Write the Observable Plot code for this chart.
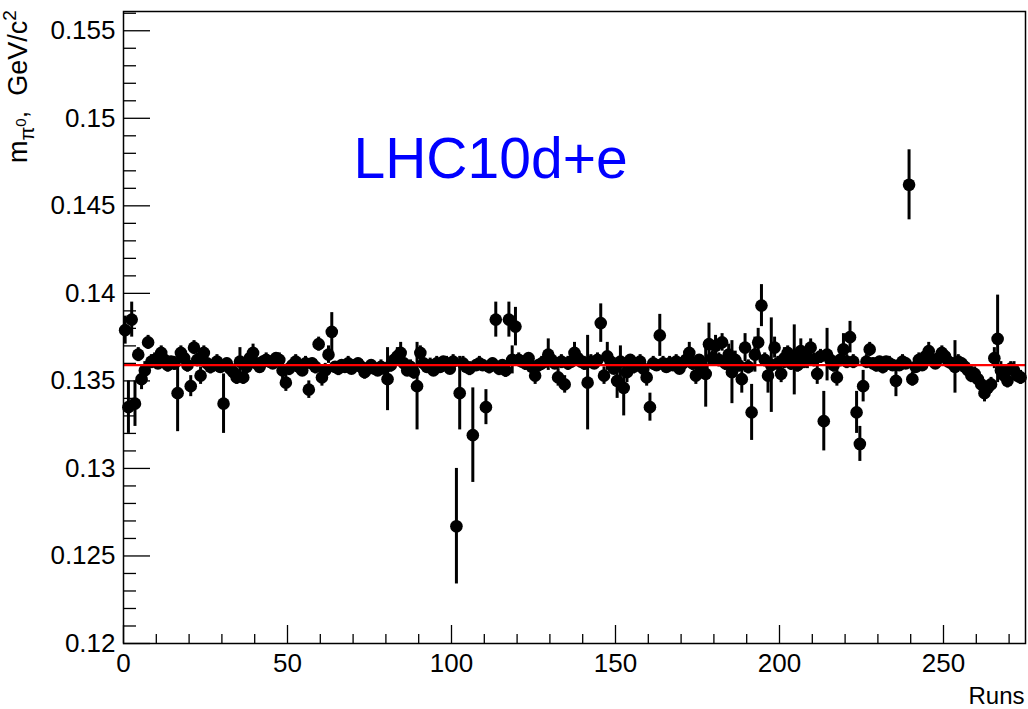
<!DOCTYPE html>
<html>
<head>
<meta charset="utf-8">
<script src="https://cdn.jsdelivr.net/npm/d3@7"></script>
<script src="https://cdn.jsdelivr.net/npm/@observablehq/plot@0.6"></script>
<style>
  html, body { margin: 0; padding: 0; background: white; }
</style>
</head>
<body>
<div id="chart"></div>
<script>
// Run index (bin centres run + 0.5) and fitted pi0 mass per run
const massValues = [
  0.1379,0.1335,0.1385,0.1337,0.1365,0.1351,0.1356,0.1372,0.1361,0.1362,
  0.1360,0.1366,0.1362,0.1359,0.1361,0.1360,0.1343,0.1366,0.1363,0.1359,
  0.1347,0.1369,0.1362,0.1353,0.1366,0.1360,0.1358,0.1359,0.1361,0.1358,
  0.1337,0.1360,0.1357,0.1355,0.1352,0.1361,0.1352,0.1358,0.1363,0.1366,
  0.1360,0.1358,0.1361,0.1362,0.1361,0.1360,0.1363,0.1362,0.1356,0.1349,
  0.1357,0.1359,0.1361,0.1358,0.1356,0.1360,0.1345,0.1360,0.1358,0.1371,
  0.1352,0.1356,0.1365,0.1378,0.1358,0.1357,0.1359,0.1358,0.1360,0.1357,
  0.1359,0.1360,0.1358,0.1355,0.1357,0.1359,0.1357,0.1356,0.1358,0.1357,
  0.1351,0.1359,0.1362,0.1364,0.1366,0.1360,0.1356,0.1358,0.1355,0.1347,
  0.1366,0.1360,0.1358,0.1359,0.1356,0.1360,0.1358,0.1361,0.1360,0.1357,
  0.1361,0.1267,0.1343,0.1360,0.1358,0.1357,0.1319,0.1359,0.1360,0.1359,
  0.1335,0.1358,0.1360,0.1385,0.1357,0.1359,0.1356,0.1385,0.1362,0.1381,
  0.1362,0.1361,0.1360,0.1363,0.1358,0.1353,0.1359,0.1360,0.1361,0.1365,
  0.1362,0.1360,0.1352,0.1361,0.1348,0.1360,0.1361,0.1366,0.1363,0.1361,
  0.1360,0.1349,0.1361,0.1360,0.1362,0.1383,0.1353,0.1364,0.1361,0.1357,
  0.1350,0.1361,0.1346,0.1355,0.1362,0.1358,0.1360,0.1361,0.1357,0.1352,
  0.1335,0.1360,0.1359,0.1376,0.1360,0.1358,0.1360,0.1359,0.1361,0.1357,
  0.1360,0.1362,0.1366,0.1360,0.1353,0.1362,0.1358,0.1354,0.1371,0.1363,
  0.1370,0.1362,0.1372,0.1360,0.1365,0.1355,0.1362,0.1359,0.1351,0.1369,
  0.1358,0.1332,0.1365,0.1372,0.1393,0.1362,0.1353,0.1359,0.1369,0.1360,
  0.1354,0.1363,0.1366,0.1360,0.1362,0.1359,0.1367,0.1361,0.1363,0.1369,
  0.1362,0.1354,0.1364,0.1327,0.1365,0.1362,0.1359,0.1352,0.1362,0.1368,
  0.1361,0.1375,0.1361,0.1332,0.1314,0.1347,0.1361,0.1368,0.1360,0.1359,
  0.1361,0.1358,0.1361,0.1360,0.1359,0.1350,0.1359,0.1361,0.1360,0.1462,
  0.1351,0.1358,0.1362,0.1359,0.1364,0.1367,0.1362,0.1360,0.1363,0.1366,
  0.1364,0.1361,0.1360,0.1358,0.1361,0.1360,0.1358,0.1356,0.1353,0.1354,
  0.1351,0.1348,0.1343,0.1346,0.1348,0.1363,0.1374,0.1356,0.1353,0.1350,
  0.1357,0.1356,0.1353,0.1352
];
const massErrors = [
  0.0008,0.0015,0.0010,0.0013,0.0004,0.0006,0.0005,0.0004,0.0004,0.0004,
  0.0003,0.0004,0.0003,0.0004,0.0003,0.0004,0.0022,0.0004,0.0003,0.0004,
  0.0006,0.0004,0.0004,0.0005,0.0004,0.0003,0.0004,0.0003,0.0004,0.0003,
  0.0017,0.0003,0.0004,0.0004,0.0004,0.0008,0.0004,0.0003,0.0004,0.0005,
  0.0003,0.0003,0.0003,0.0004,0.0003,0.0003,0.0003,0.0004,0.0005,0.0005,
  0.0004,0.0003,0.0004,0.0004,0.0003,0.0004,0.0005,0.0003,0.0004,0.0004,
  0.0005,0.0004,0.0005,0.0011,0.0003,0.0004,0.0003,0.0003,0.0004,0.0003,
  0.0003,0.0003,0.0004,0.0004,0.0003,0.0003,0.0003,0.0003,0.0004,0.0003,
  0.0018,0.0004,0.0004,0.0005,0.0006,0.0004,0.0003,0.0004,0.0004,0.0025,
  0.0004,0.0003,0.0003,0.0004,0.0003,0.0004,0.0003,0.0003,0.0004,0.0003,
  0.0004,0.0033,0.0021,0.0004,0.0003,0.0004,0.0027,0.0003,0.0004,0.0003,
  0.0010,0.0004,0.0003,0.0010,0.0004,0.0003,0.0004,0.0010,0.0008,0.0011,
  0.0004,0.0003,0.0004,0.0003,0.0004,0.0005,0.0003,0.0004,0.0003,0.0009,
  0.0004,0.0003,0.0005,0.0004,0.0005,0.0004,0.0003,0.0006,0.0004,0.0003,
  0.0004,0.0027,0.0004,0.0003,0.0004,0.0011,0.0005,0.0008,0.0004,0.0003,
  0.0010,0.0009,0.0016,0.0006,0.0003,0.0004,0.0003,0.0004,0.0003,0.0005,
  0.0008,0.0004,0.0003,0.0012,0.0004,0.0003,0.0004,0.0003,0.0004,0.0003,
  0.0004,0.0003,0.0006,0.0004,0.0005,0.0003,0.0004,0.0019,0.0012,0.0004,
  0.0006,0.0004,0.0005,0.0004,0.0006,0.0018,0.0005,0.0004,0.0008,0.0008,
  0.0004,0.0016,0.0010,0.0008,0.0012,0.0004,0.0010,0.0027,0.0006,0.0004,
  0.0005,0.0006,0.0004,0.0004,0.0020,0.0004,0.0007,0.0004,0.0006,0.0005,
  0.0004,0.0006,0.0004,0.0017,0.0015,0.0004,0.0004,0.0005,0.0004,0.0009,
  0.0004,0.0009,0.0004,0.0012,0.0010,0.0009,0.0004,0.0004,0.0003,0.0004,
  0.0003,0.0004,0.0003,0.0004,0.0003,0.0009,0.0003,0.0004,0.0003,0.0020,
  0.0004,0.0003,0.0004,0.0003,0.0004,0.0005,0.0004,0.0003,0.0003,0.0004,
  0.0003,0.0004,0.0003,0.0015,0.0004,0.0003,0.0004,0.0004,0.0004,0.0004,
  0.0003,0.0004,0.0005,0.0004,0.0004,0.0006,0.0025,0.0005,0.0005,0.0004,
  0.0004,0.0005,0.0004,0.0004
];
const fitValue = 0.1359;

const yTickValues = [0.12, 0.125, 0.13, 0.135, 0.14, 0.145, 0.15, 0.155];
const yTickLabels = ["0.12", "0.125", "0.13", "0.135", "0.14", "0.145", "0.15", "0.155"];
const xTickValues = [0, 50, 100, 150, 200, 250];
const xTickLabels = ["0", "50", "100", "150", "200", "250"];
const yMinorTicks = d3.range(121, 157).map(v => v / 1000).filter(v => Math.round(v * 1000) % 5 !== 0);
const xMinorTicks = d3.range(10, 275, 10).filter(v => v % 50 !== 0);

const titleText = "LHC10d+e";
const xLabel = "Runs";

const data = massValues.map((m, i) => ({
  run: i + 0.5,
  mass: m,
  lo: m - massErrors[i],
  hi: m + massErrors[i]
}));

const W = 1028, H = 709;
const mL = 123, mR = 3, mT = 11, mB = 66;
const plotW = W - mL - mR, plotH = H - mT - mB;
const font = "'Liberation Sans', Arial, Helvetica, sans-serif";

const chart = Plot.plot({
  width: W,
  height: H,
  marginLeft: mL,
  marginRight: mR,
  marginTop: mT,
  marginBottom: mB,
  x: {domain: [0, 275]},
  y: {domain: [0.12, 0.1561]},
  style: {fontFamily: font, background: "white", color: "black", overflow: "visible"},
  marks: [
    // inward ROOT-style ticks
    Plot.ruleY(yTickValues, {stroke: "black", strokeWidth: 1.3, insetRight: plotW - 27}),
    Plot.ruleY(yMinorTicks, {stroke: "black", strokeWidth: 1.3, insetRight: plotW - 13}),
    Plot.ruleX(xTickValues, {stroke: "black", strokeWidth: 1.3, insetTop: plotH - 18}),
    Plot.ruleX(xMinorTicks, {stroke: "black", strokeWidth: 1.3, insetTop: plotH - 9}),
    Plot.axisY(yTickValues, {
      tickSize: 0, tickPadding: 8, fontSize: 26, label: null,
      tickFormat: d => yTickLabels[yTickValues.indexOf(d)]
    }),
    Plot.axisX(xTickValues, {
      tickSize: 0, tickPadding: 10, fontSize: 26, label: null,
      tickFormat: d => xTickLabels[xTickValues.indexOf(d)]
    }),
    // error bars + markers
    Plot.ruleX(data, {x: "run", y1: "lo", y2: "hi", stroke: "black", strokeWidth: 3}),
    Plot.dot(data, {x: "run", y: "mass", r: 6.3, fill: "black", stroke: "none"}),
    // constant fit
    Plot.ruleY([fitValue], {stroke: "#ff0000", strokeWidth: 2.2}),
    // label text
    Plot.text([titleText], {
      frameAnchor: "top-left", dx: 230, dy: 126, textAnchor: "start", lineAnchor: "top",
      fontSize: 57, fill: "#0000ff", fontFamily: font
    }),
    Plot.text([xLabel], {
      frameAnchor: "bottom-right", dx: -1, dy: 53, textAnchor: "end", lineAnchor: "middle",
      fontSize: 24, fill: "black", fontFamily: font
    }),
    Plot.frame({stroke: "black", strokeWidth: 1.5})
  ]
});

document.getElementById("chart").appendChild(chart);

// rotated y-axis title with subscript/superscript
const svg = d3.select(chart);
const yt = svg.append("text")
  .attr("transform", "translate(27,163) rotate(-90)")
  .attr("font-family", font)
  .attr("font-size", 27)
  .attr("fill", "black")
  .attr("text-anchor", "start");
yt.append("tspan").text("m");
yt.append("tspan").attr("dy", 7).attr("font-size", 20).text("\u03C0");
yt.append("tspan").attr("dy", -8).attr("font-size", 15).text("0");
yt.append("tspan").attr("dy", 1).attr("font-size", 27).text(",  GeV/c");
yt.append("tspan").attr("dy", -11).attr("font-size", 19).text("2");
</script>
</body>
</html>
